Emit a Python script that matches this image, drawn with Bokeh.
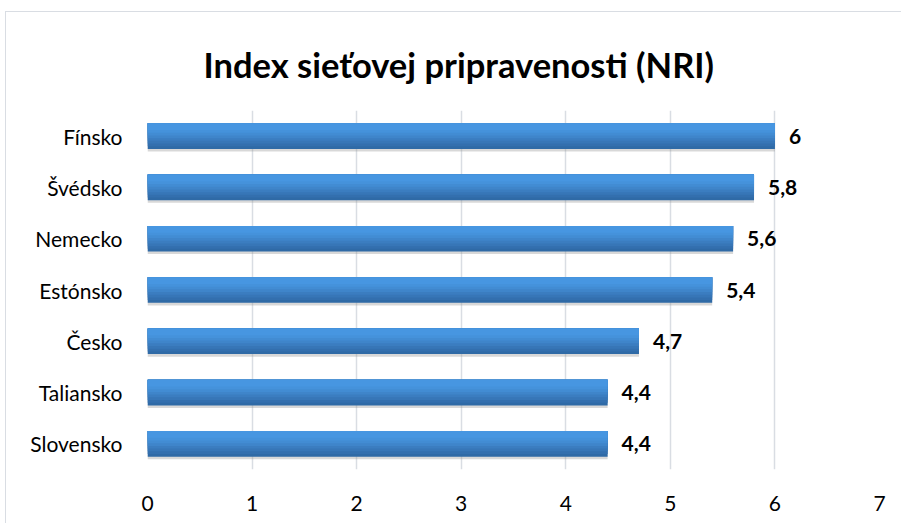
from bokeh.plotting import figure
from bokeh.models import ColumnDataSource, FactorRange, Range1d, FixedTicker, LabelSet
from bokeh.transform import dodge
from bokeh.core.properties import value
from bokeh.embed import file_html
from bokeh.resources import INLINE

countries = ["Fínsko", "Švédsko", "Nemecko", "Estónsko", "Česko", "Taliansko", "Slovensko"]
values = [6, 5.8, 5.6, 5.4, 4.7, 4.4, 4.4]
x_ticks = [0, 1, 2, 3, 4, 5, 6, 7]
title_text = "Index sieťovej pripravenosti (NRI)"

labels = [("%g" % v).replace(".", ",") for v in values]
src = ColumnDataSource(dict(country=countries, value=values, label=labels))

p = figure(
    y_range=FactorRange(*countries[::-1]),
    x_range=Range1d(0, 7),
    frame_width=732, frame_height=359,
    output_backend="svg", toolbar_location=None,
    min_border_left=141, min_border_right=22, min_border_bottom=54, min_border_top=98,
)
p.title.text = title_text
p.title.text_font = "Lato"
p.title.text_font_style = "bold"
p.title.text_font_size = "34.5px"
p.title.align = "left"
p.title.offset = 56
p.title.standoff = 48
p.title.vertical_align = "top"
p.title.text_color = "#000000"

bar_h = 0.5
# shadow
p.hbar(y=dodge("country", -0.05, range=p.y_range), left=0, right="value", height=bar_h,
       source=src, fill_color="#8f8f8f", fill_alpha=0.35, line_color=None)
# gradient layers (top-anchored, lighter toward the top)
shades = ["#2f6aa6", "#336fae", "#3776b7", "#3b7dc0", "#3f85ca", "#428cd3", "#4592db", "#4796e1"]
n = len(shades)
for i, c in enumerate(shades):
    h = bar_h * (1 - i / (n + 1.5))
    p.hbar(y=dodge("country", bar_h / 2 - h / 2, range=p.y_range), left=0, right="value",
           height=h, source=src, fill_color=c, line_color=None)

p.add_layout(LabelSet(x="value", y="country", text="label", source=src, x_offset=14,
                      text_align="left", text_baseline="middle", text_font=value("Lato"),
                      text_font_style="bold", text_font_size="21px", text_color="#000000"))

p.xaxis.ticker = FixedTicker(ticks=x_ticks)
p.xgrid.ticker = FixedTicker(ticks=x_ticks)
p.xgrid.grid_line_color = "#d9dde3"
p.xgrid.grid_line_width = 1.5
p.ygrid.grid_line_color = None
for ax in (p.xaxis, p.yaxis):
    ax.axis_line_color = None
    ax.major_tick_line_color = None
    ax.minor_tick_line_color = None
    ax.major_label_text_font = "Lato"
    ax.major_label_text_font_size = "21px"
    ax.major_label_text_color = "#000000"
p.xaxis.major_label_standoff = 20
p.yaxis.major_label_standoff = 19
p.outline_line_color = None
p.styles = {"border-left": "1px solid #d9dde3", "border-top": "1px solid #d9dde3",
            "margin-left": "5px", "margin-top": "11px"}

open("out.html", "w").write(file_html(p, INLINE))
